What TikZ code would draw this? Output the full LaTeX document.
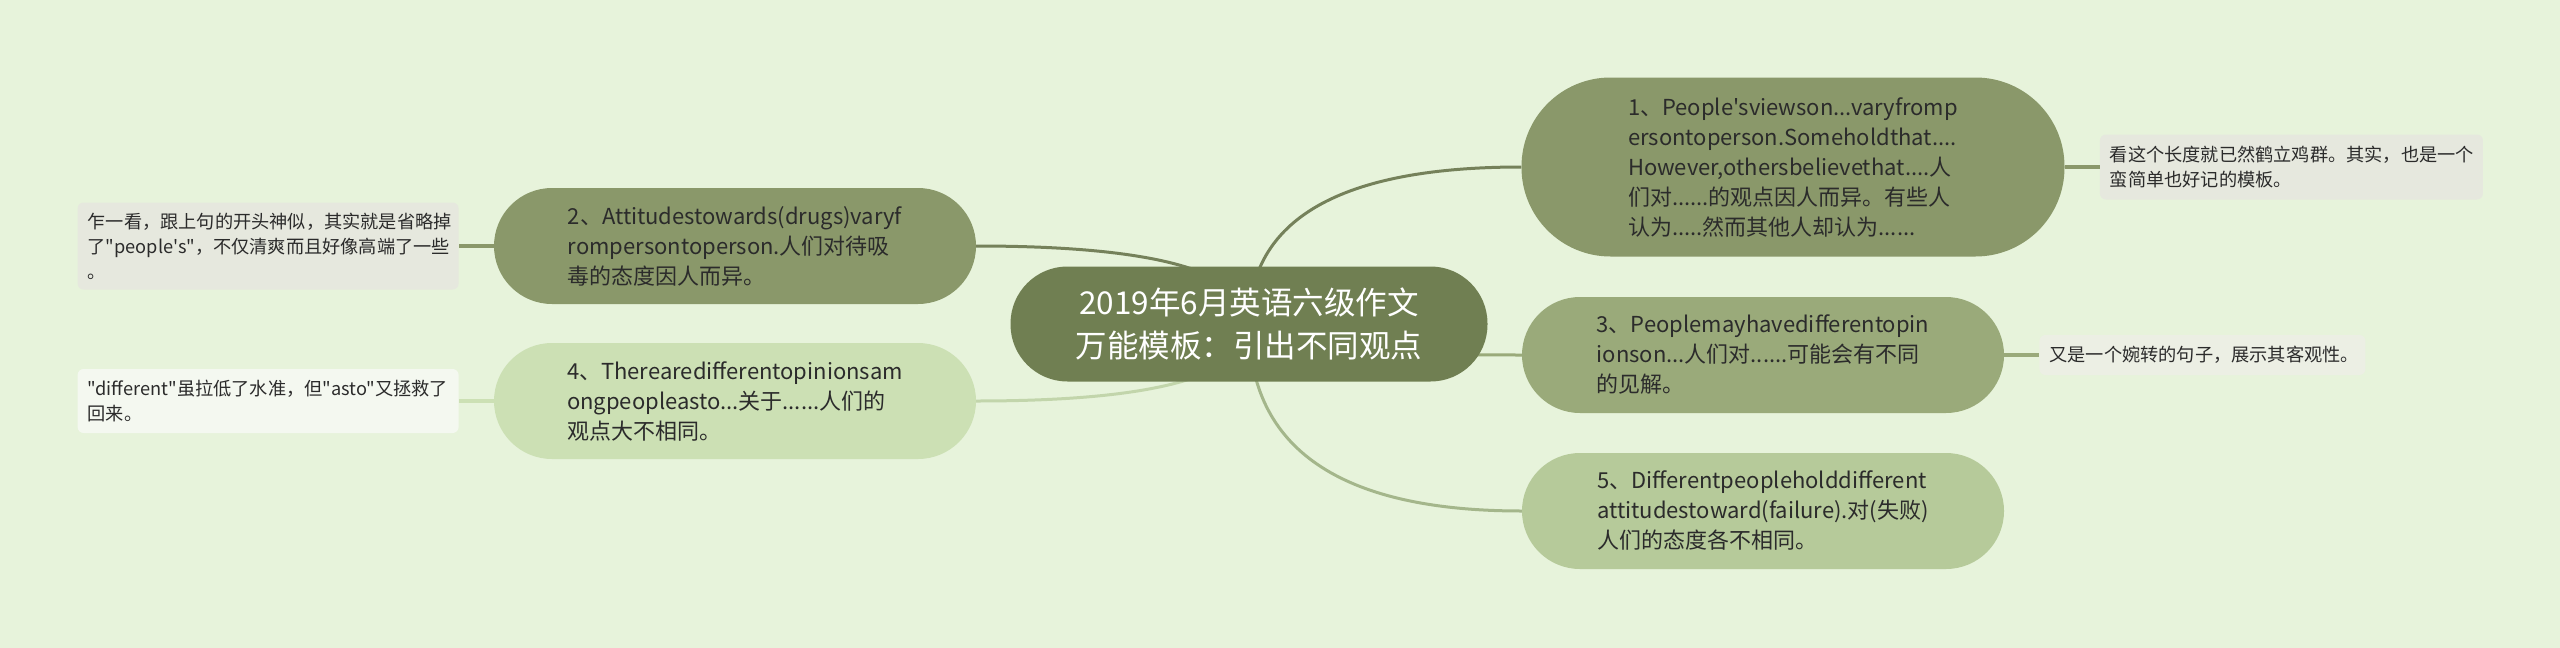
\documentclass[tikz,border=0pt]{standalone}
\usepackage{fontspec}
\newfontfamily\yahei{Noto Sans CJK SC}
\usetikzlibrary{positioning,calc,backgrounds}

\definecolor{paper}{HTML}{E7F3DB}
\definecolor{topicfill}{HTML}{707F52}
\definecolor{darkfill}{HTML}{8A986A}
\definecolor{midfill}{HTML}{9AAA7A}
\definecolor{lightfill}{HTML}{B6CA9A}
\definecolor{palefill}{HTML}{CCE0B4}
\definecolor{notegrey}{HTML}{E6E8DE}
\definecolor{notepale}{HTML}{ECEFE4}
\definecolor{notewhite}{HTML}{F4F8F0}
\definecolor{inkcol}{HTML}{2B2B2B}

\begin{document}
\begin{tikzpicture}[x=1pt, y=-1pt, node distance=35pt,
    topic/.style={shape=rectangle, fill=topicfill, text=white, align=center,
        font=\yahei\fontsize{31.5}{43}\selectfont, minimum width=477pt, minimum height=115pt, rounded corners=57pt},
    branch/.style={shape=rectangle, align=left, text=inkcol,
        font=\yahei\fontsize{22}{30}\selectfont, minimum width=482pt, minimum height=116pt, rounded corners=58pt},
    note/.style={shape=rectangle, align=left, text=inkcol, inner sep=10pt,
        font=\yahei\fontsize{18.2}{25}\selectfont, rounded corners=6pt},
    link/.style={line width=3pt, to path={.. controls ($(\tikztostart)!2/3!(\tikztostart|-\tikztotarget)$)
        and ($(\tikztotarget)!2/3!(\tikztostart|-\tikztotarget)$) .. (\tikztotarget)}},
    tie/.style={line width=4pt}]

    \useasboundingbox (0,0) rectangle (2560,648);

    % Node definitions
    \node (c) [topic] at (1249,324) {2019年6月英语六级作文\\万能模板：引出不同观点};

    \node (n1) [branch, fill=darkfill, minimum width=543pt, minimum height=179pt, rounded corners=89pt] at (1793,167) {
        1、People'sviewson...varyfromp\\ersontoperson.Someholdthat....\\However,othersbelievethat....人\\们对......的观点因人而异。有些人\\认为.....然而其他人却认为......
    };
    \node (n3) [branch, fill=midfill] at (1763,355) {
        3、Peoplemayhavedifferentopin\\ionson...人们对......可能会有不同\\的见解。
    };
    \node (n5) [branch, fill=lightfill] at (1763,511) {
        5、Differentpeopleholddifferent\\attitudestoward(failure).对(失败)\\人们的态度各不相同。
    };
    \node (n2) [branch, fill=darkfill] at (735,246) {
        2、Attitudestowards(drugs)varyf\\rompersontoperson.人们对待吸\\毒的态度因人而异。
    };
    \node (n4) [branch, fill=palefill] at (735,401) {
        4、Therearedifferentopinionsam\\ongpeopleasto...关于......人们的\\观点大不相同。
    };

    \node (m1) [note, fill=notegrey, text width=363pt, minimum height=65pt, right=of n1] {
        看这个长度就已然鹤立鸡群。其实，也是一个\\蛮简单也好记的模板。
    };
    \node (m3) [note, fill=notepale, text width=306pt, minimum height=40pt, right=of n3] {
        又是一个婉转的句子，展示其客观性。
    };
    \node (m2) [note, fill=notegrey, text width=361pt, minimum height=87pt, left=of n2] {
        乍一看，跟上句的开头神似，其实就是省略掉\\了"people's"，不仅清爽而且好像高端了一些\\。
    };
    \node (m4) [note, fill=notewhite, text width=361pt, minimum height=64pt, left=of n4] {
        "different"虽拉低了水准，但"asto"又拯救了\\回来。
    };

    % Connecting lines
    \begin{scope}[on background layer]
        \fill[paper] (0,0) rectangle (2560,648);
        \draw[link, draw=darkfill!85!black] (c.center) to (n1.west);
        \draw[link, draw=midfill] (c.center) to (n3.west);
        \draw[link, draw=lightfill!90!black] (c.center) to (n5.west);
        \draw[link, draw=darkfill!85!black] (c.center) to (n2.east);
        \draw[link, draw=palefill!95!black] (c.center) to (n4.east);
    \end{scope}
    \draw[tie, darkfill] (n1) -- (m1);
    \draw[tie, midfill] (n3) -- (m3);
    \draw[tie, darkfill] (n2) -- (m2);
    \draw[tie, palefill] (n4) -- (m4);
\end{tikzpicture}
\end{document}
